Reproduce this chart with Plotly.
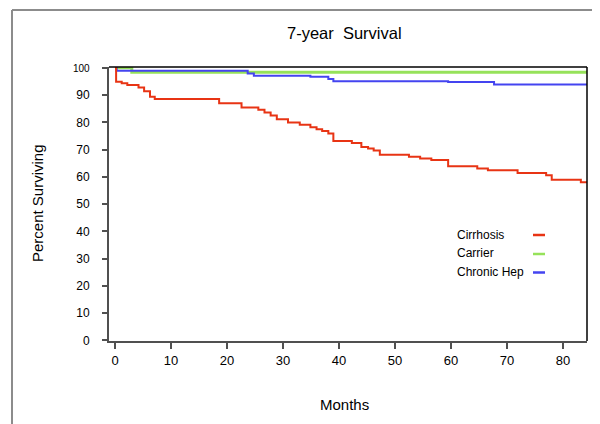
import plotly.graph_objects as go

# ---- data ----
cirr_months = [0, 0.2, 1.2, 2.2, 4.2, 5.2, 6.25, 7.1, 18.6, 22.6, 25.6, 26.7, 27.8, 28.9, 30.9,
               33.0, 34.9, 36.0, 37.0, 38.1, 39.0, 42.3, 44.0, 45.2, 46.2, 47.3, 52.5, 54.5,
               56.5, 59.5, 64.7, 66.6, 71.9, 77.0, 78.0, 83.2, 84.3]
cirr_surv = [100, 94.9, 94.3, 93.7, 92.8, 91.4, 89.4, 88.6, 87.0, 85.4, 84.6, 83.6, 82.5, 81.1, 79.9,
             79.1, 78.2, 77.5, 76.8, 75.9, 73.2, 72.4, 71.0, 70.4, 69.7, 68.1, 67.4, 66.7,
             66.2, 63.9, 63.1, 62.4, 61.4, 60.6, 58.9, 58.0, 58.0]

carrier_months = [0, 3.0, 84.3]
carrier_surv = [100, 98.4, 98.4]

chronic_months = [0, 0.3, 23.7, 24.8, 34.9, 38.1, 39.0, 59.5, 67.7, 84.3]
chronic_surv = [100, 98.9, 97.9, 97.1, 96.7, 95.9, 95.1, 94.8, 93.9, 93.9]

series_names = ["Cirrhosis", "Carrier", "Chronic Hep"]
x_ticks = [0, 10, 20, 30, 40, 50, 60, 70, 80]
y_ticks = [0, 10, 20, 30, 40, 50, 60, 70, 80, 90, 100]

# ---- styles ----
RED = "rgb(232,52,20)"
GREEN = "rgb(150,226,90)"
BLUE = "rgb(68,68,240)"
AXIS = "rgb(80,80,80)"
FONT = "Liberation Sans, Arial, sans-serif"

fig = go.Figure()
for months, surv, color, width, name in [
    (carrier_months, carrier_surv, GREEN, 3, series_names[1]),
    (chronic_months, chronic_surv, BLUE, 2, series_names[2]),
    (cirr_months, cirr_surv, RED, 2, series_names[0]),
]:
    fig.add_trace(go.Scatter(x=months, y=surv, mode="lines", name=name,
                             line=dict(color=color, width=width, shape="hv"),
                             showlegend=False, hoverinfo="skip"))

# page body has an 8px margin, so the figure is drawn 8px in from the window corner
OFF = 8
W, H = 600 - OFF, 424 - OFF
# plot area in window pixels: x 109..587, y 67..341
L, T = 109 - OFF, 67 - OFF
R, B = W - (587 - OFF), H - (341 - OFF)
pw, ph = W - L - R, H - T - B


def px(xw):
    return (xw - OFF - L) / pw


def py(yw):
    return (H - B - (yw - OFF)) / ph


ytext = [str(v) for v in y_ticks]
ytext[-1] = "<span style='font-size:10px'>100</span>"

fig.update_layout(
    width=W, height=H, autosize=False,
    margin=dict(l=L, r=R, t=T, b=B, pad=0),
    paper_bgcolor="white", plot_bgcolor="white",
    font=dict(family=FONT, color="black", size=12),
    xaxis=dict(range=[-1.07, 84.3], tickvals=x_ticks, ticks="outside", ticklen=6,
               tickwidth=1.5, tickcolor=AXIS, showline=True, linecolor=AXIS, linewidth=2,
               showgrid=False, zeroline=False, tickfont=dict(size=13, family=FONT)),
    yaxis=dict(range=[-0.2, 100.3], tickvals=y_ticks, ticktext=ytext, ticks="outside",
               ticklen=5, tickwidth=1.5, tickcolor=AXIS, showline=True, linecolor=AXIS,
               linewidth=2, showgrid=False, zeroline=False, ticklabelstandoff=10,
               tickfont=dict(size=12, family=FONT)),
    shapes=[
        # top & right plot border
        dict(type="line", xref="paper", yref="paper", x0=0, x1=1, y0=1, y1=1,
             line=dict(color="black", width=1.5)),
        dict(type="line", xref="paper", yref="paper", x0=1, x1=1, y0=0, y1=1,
             line=dict(color="black", width=1.5)),
        # outer gray frame
        dict(type="line", xref="paper", yref="paper", x0=px(12), x1=px(605), y0=py(10), y1=py(10),
             line=dict(color="rgb(140,140,140)", width=2)),
        dict(type="line", xref="paper", yref="paper", x0=px(12), x1=px(12), y0=py(10), y1=py(430),
             line=dict(color="rgb(140,140,140)", width=2)),
        # legend keys
        dict(type="line", xref="paper", yref="paper", x0=px(533), x1=px(545), y0=py(235), y1=py(235),
             line=dict(color=RED, width=2.5)),
        dict(type="line", xref="paper", yref="paper", x0=px(533), x1=px(545), y0=py(254), y1=py(254),
             line=dict(color=GREEN, width=2.5)),
        dict(type="line", xref="paper", yref="paper", x0=px(533), x1=px(545), y0=py(272.5), y1=py(272.5),
             line=dict(color=BLUE, width=2.5)),
    ],
    annotations=[
        dict(text="7-year  Survival", xref="paper", yref="paper", x=px(344), y=py(33),
             showarrow=False, xanchor="center", yanchor="middle", font=dict(size=16.5)),
        dict(text="Months", xref="paper", yref="paper", x=px(344), y=py(404),
             showarrow=False, xanchor="center", yanchor="middle", font=dict(size=15)),
        dict(text="Percent Surviving", xref="paper", yref="paper", x=px(37), y=py(203),
             showarrow=False, xanchor="center", yanchor="middle", textangle=-90,
             font=dict(size=15)),
        dict(text=series_names[0], xref="paper", yref="paper", x=px(455), y=py(235),
             showarrow=False, xanchor="left", yanchor="middle", font=dict(size=12)),
        dict(text=series_names[1], xref="paper", yref="paper", x=px(455), y=py(253),
             showarrow=False, xanchor="left", yanchor="middle", font=dict(size=12)),
        dict(text=series_names[2], xref="paper", yref="paper", x=px(455), y=py(272),
             showarrow=False, xanchor="left", yanchor="middle", font=dict(size=12)),
    ],
)

fig.write_html("out.html")
